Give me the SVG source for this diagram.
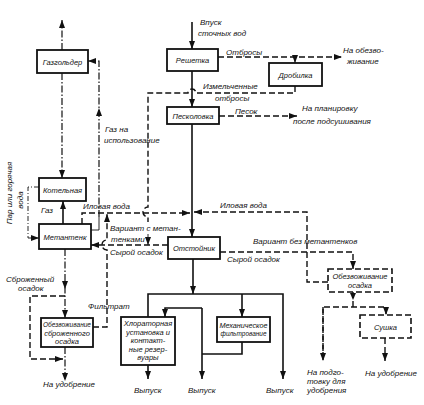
<svg xmlns="http://www.w3.org/2000/svg" width="424" height="405" viewBox="0 0 424 405">
<style>
.box{fill:#fff;stroke:#111;stroke-width:1.8}
.dbox{fill:#fff;stroke:#111;stroke-width:1.6;stroke-dasharray:6 3}
.s{fill:none;stroke:#111;stroke-width:1.6}
.d{fill:none;stroke:#111;stroke-width:1.4;stroke-dasharray:6 3}
.dd{fill:none;stroke:#111;stroke-width:1.2;stroke-dasharray:7 2 1.5 2}
.t{fill:none;stroke:#111;stroke-width:0.9}
.td{fill:none;stroke:#111;stroke-width:0.9;stroke-dasharray:5 2 1 2}
text{font-family:"Liberation Sans",Arial,sans-serif;font-style:italic;font-size:8px;fill:#111}
.c{text-anchor:middle;font-size:7.5px}
.ah{fill:#111}
</style>
<defs>
<marker id="a" markerUnits="userSpaceOnUse" markerWidth="8" markerHeight="6" refX="8" refY="3" orient="auto"><path d="M0,0 L8,3 L0,6 z" fill="#111"/></marker>
</defs>
<rect width="424" height="405" fill="#fff"/>

<g id="connectors">
<path class="s" d="M192 22 V49" marker-end="url(#a)"/>
<path class="s" d="M192 71 V107" marker-end="url(#a)"/>
<path class="s" d="M192 124 V237" marker-end="url(#a)"/>
<path class="d" d="M218 57 H342" marker-end="url(#a)"/>
<path class="t" d="M295 57 V63" marker-end="url(#a)"/>
<path class="d" d="M295 86 V93 H196 A4 4 0 0 0 188 93 H148 V207 A5 5 0 0 0 148 217 V222"/>
<path class="t" d="M148 234 V245" marker-end="url(#a)"/>
<path class="d" d="M219 116 H297" marker-end="url(#a)"/>
<path class="dd" d="M62 50 V20" marker-end="url(#a)"/>
<path class="dd" d="M62 73 V178" marker-end="url(#a)"/>
<path class="s" d="M63 224 V201" marker-end="url(#a)"/>
<path class="t" d="M91 230 H99 V217"/>
<path class="dd" d="M99 217 V61 H88" marker-end="url(#a)"/>
<path class="ah" d="M96 116 L99 108 L102 116 z"/>
<path class="td" d="M39 187 H28 V238 H39" marker-end="url(#a)"/>
<path class="d" d="M82 224 V213 H190" marker-end="url(#a)"/>
<path class="d" d="M328 282 H307 V212 H194" marker-end="url(#a)"/>
<path class="d" d="M168 245 H91" marker-end="url(#a)"/>
<path class="d" d="M93 327 H107 V250 A5 5 0 0 1 107 240 V214" marker-end="url(#a)"/>
<path class="d" d="M220 252 H353 V269" marker-end="url(#a)"/>
<path class="dd" d="M65 249 V318" marker-end="url(#a)"/>
<path class="ah" d="M62 281 L65 289 L68 281 z"/>
<path class="d" d="M65 296 H30 V359 H63" marker-end="url(#a)"/>
<path class="dd" d="M65 347 V381" marker-end="url(#a)"/>
<path class="s" d="M193 259 V294" marker-end="url(#a)"/>
<path class="s" d="M148 317 V294 H283 V379" marker-end="url(#a)"/>
<path class="s" d="M242 294 V317" marker-end="url(#a)"/>
<path class="s" d="M242 342 V354 H202"/>
<path class="s" d="M202 308 V379" marker-end="url(#a)"/>
<path class="s" d="M202 308 H165 V317" marker-end="url(#a)"/>
<path class="s" d="M148 365 V379" marker-end="url(#a)"/>
<path class="d" d="M353 292 V307"/>
<path class="ah" d="M350 293 L353 300 L356 293 z"/>
<path class="d" d="M323 360 V307 H386 V315" marker-end="url(#a)"/>
<path class="d" d="M323 307 V361" marker-end="url(#a)"/>
<path class="d" d="M385 338 V361" marker-end="url(#a)"/>
</g>

<g id="gazgolder"><rect class="box" x="37" y="50" width="51" height="23"/><text class="c" x="62.5" y="64.5">Газгольдер</text></g>
<g id="reshetka"><rect class="box" x="167" y="49" width="51" height="22"/><text class="c" x="192.5" y="63">Решетка</text></g>
<g id="drobilka"><rect class="box" x="269" y="63" width="53" height="23"/><text class="c" x="295.5" y="77.5">Дробилка</text></g>
<g id="peskolovka"><rect class="box" x="167" y="107" width="52" height="17"/><text class="c" x="193" y="118.5">Песколовка</text></g>
<g id="kotelnaya"><rect class="box" x="39" y="178" width="47" height="23"/><text class="c" x="62.5" y="192.5">Котельная</text></g>
<g id="metantenk"><rect class="box" x="39" y="224" width="52" height="25"/><text class="c" x="65" y="239.5">Метантенк</text></g>
<g id="otstoinik"><rect class="box" x="168" y="237" width="52" height="22"/><text class="c" x="194" y="251">Отстойник</text></g>
<g id="obezv-osadka"><rect class="dbox" x="328" y="269" width="64" height="23"/><text class="c" x="360" y="279">Обезвоживание</text><text class="c" x="360" y="288">осадка</text></g>
<g id="sushka"><rect class="dbox" x="360" y="315" width="51" height="23"/><text class="c" x="385.5" y="329.5">Сушка</text></g>
<g id="obezv-sbrozh"><rect class="box" x="41" y="318" width="52" height="29"/><text class="c" x="67" y="327" textLength="48" lengthAdjust="spacingAndGlyphs">Обезвоживание</text><text class="c" x="67" y="335.5">сброженного</text><text class="c" x="67" y="344">осадка</text></g>
<g id="hlor"><rect class="box" x="121" y="317" width="54" height="48"/><text class="c" x="148" y="326">Хлораторная</text><text class="c" x="148" y="334.5">установка и</text><text class="c" x="148" y="343">контакт-</text><text class="c" x="148" y="351.5">ные резер-</text><text class="c" x="148" y="360">вуары</text></g>
<g id="meh"><rect class="box" x="217" y="317" width="53" height="25"/><text class="c" x="243.5" y="327.5" textLength="48" lengthAdjust="spacingAndGlyphs">Механическое</text><text class="c" x="243.5" y="336" textLength="46" lengthAdjust="spacingAndGlyphs">фильтрование</text></g>

<g id="labels">
<text x="200" y="25">Впуск</text>
<text x="198" y="36">сточных вод</text>
<text x="226" y="55">Отбросы</text>
<text x="343" y="53">На обезво-</text>
<text x="347" y="64">живание</text>
<text x="203" y="89">Измельченные</text>
<text x="215" y="101">отбросы</text>
<text x="235" y="114">Песок</text>
<text x="302" y="111">На планировку</text>
<text x="293" y="124">после подсушивания</text>
<text x="105" y="132">Газ на</text>
<text x="104" y="143">использование</text>
<text text-anchor="middle" transform="translate(12,193) rotate(-90)">Пар или горячая</text>
<text text-anchor="middle" transform="translate(23,200) rotate(-90)">вода</text>
<text x="41" y="213">Газ</text>
<text x="83" y="209">Иловая вода</text>
<text x="110" y="231">Вариант с метан-</text>
<text x="111" y="242">тенками</text>
<text x="110" y="255">Сырой осадок</text>
<text x="220" y="208">Иловая вода</text>
<text x="253" y="244">Вариант без метантенков</text>
<text x="227" y="262">Сырой осадок</text>
<text x="6" y="282">Сброженный</text>
<text x="18" y="291">осадок</text>
<text x="88" y="309">Фильтрат</text>
<text x="43" y="387">На удобрение</text>
<text x="134" y="393">Выпуск</text>
<text x="188" y="393">Выпуск</text>
<text x="266" y="393">Выпуск</text>
<text x="307" y="375">На подго-</text>
<text x="307" y="384">товку для</text>
<text x="307" y="393">удобрения</text>
<text x="365" y="376">На удобрение</text>
</g>
</svg>
